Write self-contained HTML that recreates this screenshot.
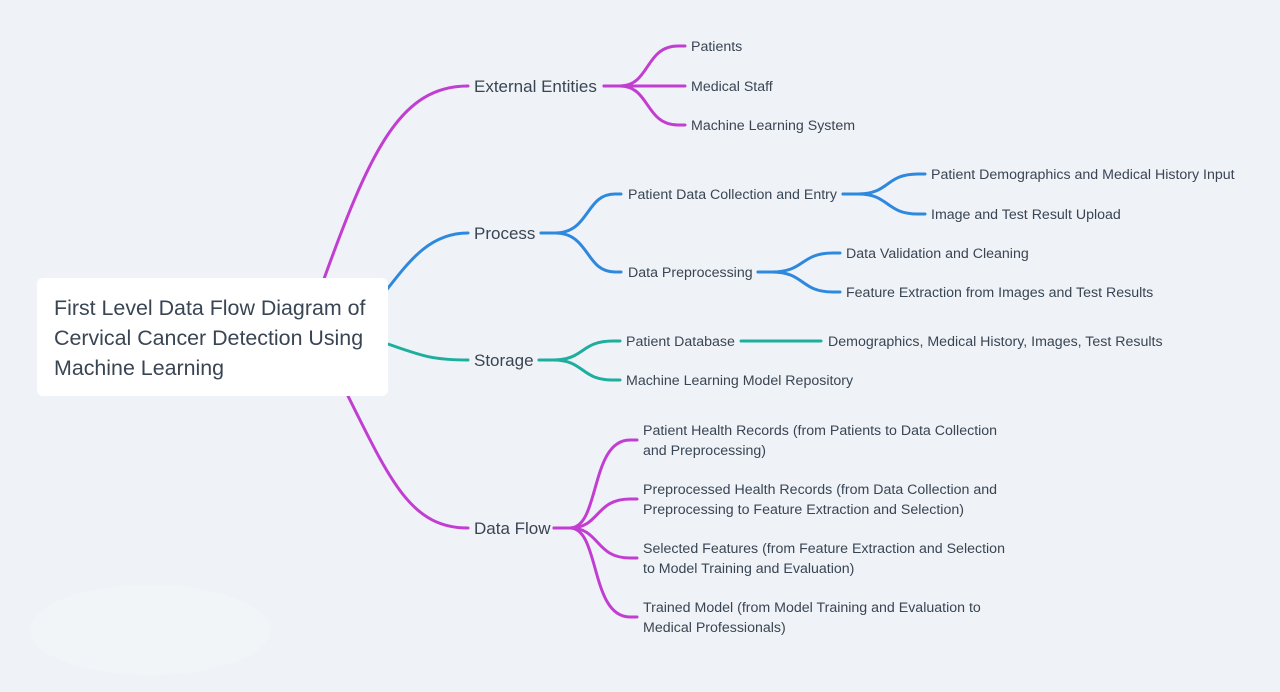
<!DOCTYPE html>
<html><head><meta charset="utf-8"><style>
html,body{margin:0;padding:0;background:#eff3f7;}
svg{display:block}
text{font-family:"Liberation Sans",sans-serif;fill:#3a4553;}
.m{font-size:17px}.c{font-size:14.2px}
path{fill:none;stroke-width:3;stroke-linecap:round}
.p{stroke:#c23ed2}.b{stroke:#2e88de}.t{stroke:#1eae9e}
</style></head><body>
<svg width="1280" height="692" viewBox="0 0 1280 692">
<ellipse cx="150" cy="630" rx="120" ry="45" fill="#f3f6f9" opacity="0.6"/>
<path class="p" d="M320 290 C370 150 400 86 468 86"/>
<path class="b" d="M385 292 C410 260 430 233 468 233"/>
<path class="t" d="M385 343 C420 355 430 360 468 360"/>
<path class="p" d="M345 390 C390 480 410 528 468 528"/>
<rect x="37" y="278" width="351" height="118" rx="6" fill="#ffffff"/>
<text x="54" y="315" style="font-size:21.4px">First Level Data Flow Diagram of</text>
<text x="54" y="345" style="font-size:21.4px">Cervical Cancer Detection Using</text>
<text x="54" y="375" style="font-size:21.4px">Machine Learning</text>

<text class="m" x="474" y="92">External Entities</text>
<text class="m" x="474" y="239">Process</text>
<text class="m" x="474" y="366">Storage</text>
<text class="m" x="474" y="534">Data Flow</text>

<path class="p" d="M604 86 H620 C650 86 645 46 678 46 H685"/>
<path class="p" d="M604 86 H685"/>
<path class="p" d="M604 86 H620 C650 86 645 125 678 125 H685"/>
<text class="c" x="691" y="51">Patients</text>
<text class="c" x="691" y="91">Medical Staff</text>
<text class="c" x="691" y="130">Machine Learning System</text>

<path class="b" d="M541 233 H555 C590 233 585 194 615 194 H621"/>
<path class="b" d="M541 233 H555 C590 233 585 272 615 272 H621"/>
<text class="c" x="628" y="199">Patient Data Collection and Entry</text>
<text class="c" x="628" y="277">Data Preprocessing</text>
<path class="b" d="M843 194 H858 C890 194 885 174 918 174 H925"/>
<path class="b" d="M843 194 H858 C890 194 885 214 918 214 H925"/>
<text class="c" x="931" y="179">Patient Demographics and Medical History Input</text>
<text class="c" x="931" y="219">Image and Test Result Upload</text>
<path class="b" d="M758 272 H772 C805 272 800 253 833 253 H840"/>
<path class="b" d="M758 272 H772 C805 272 800 292 833 292 H840"/>
<text class="c" x="846" y="258">Data Validation and Cleaning</text>
<text class="c" x="846" y="297">Feature Extraction from Images and Test Results</text>

<path class="t" d="M539 360 H553 C585 360 580 341 613 341 H620"/>
<path class="t" d="M539 360 H553 C585 360 580 380 613 380 H620"/>
<text class="c" x="626" y="346">Patient Database</text>
<text class="c" x="626" y="385">Machine Learning Model Repository</text>
<path class="t" d="M741 341 H821"/>
<text class="c" x="828" y="346">Demographics, Medical History, Images, Test Results</text>

<path class="p" d="M554 528 H570 C600 528 590 440 630 440 H637"/>
<path class="p" d="M554 528 H570 C600 528 595 499 630 499 H637"/>
<path class="p" d="M554 528 H570 C600 528 595 558 630 558 H637"/>
<path class="p" d="M554 528 H570 C600 528 590 617 630 617 H637"/>
<text class="c" x="643" y="435">Patient Health Records (from Patients to Data Collection</text>
<text class="c" x="643" y="455">and Preprocessing)</text>
<text class="c" x="643" y="494">Preprocessed Health Records (from Data Collection and</text>
<text class="c" x="643" y="514">Preprocessing to Feature Extraction and Selection)</text>
<text class="c" x="643" y="553">Selected Features (from Feature Extraction and Selection</text>
<text class="c" x="643" y="573">to Model Training and Evaluation)</text>
<text class="c" x="643" y="612">Trained Model (from Model Training and Evaluation to</text>
<text class="c" x="643" y="632">Medical Professionals)</text>
</svg>
</body></html>
